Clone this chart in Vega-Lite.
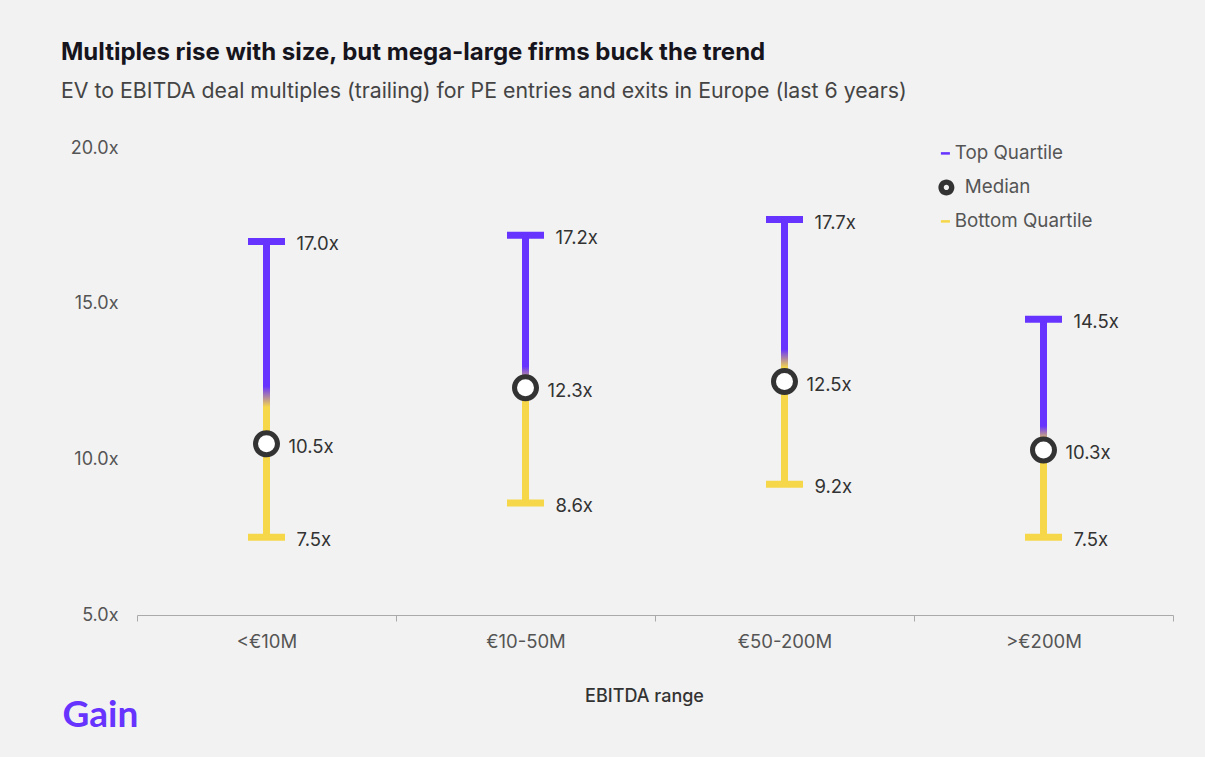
{
  "$schema": "https://vega.github.io/schema/vega-lite/v6.json",
  "width": 1036,
  "height": 467,
  "autosize": {"type": "none"},
  "padding": {"left": 137, "top": 148, "right": 32, "bottom": 142},
  "background": "#f2f2f2",
  "config": {
    "font": "Inter",
    "view": {"stroke": null},
    "legend": {"title": null, "orient": "none", "labelFontSize": 18.8, "labelColor": "#555555", "padding": 0}
  },
  "title": {
    "text": "Multiples rise with size, but mega-large firms buck the trend",
    "subtitle": "EV to EBITDA deal multiples (trailing) for PE entries and exits in Europe (last 6 years)",
    "anchor": "start",
    "frame": "group",
    "dx": -76,
    "fontSize": 24,
    "fontWeight": 700,
    "color": "#16141c",
    "subtitleFontSize": 21.3,
    "subtitleColor": "#444444",
    "subtitlePadding": 16,
    "offset": 37
  },
  "data": {
    "values": [
      {"range": "<€10M", "Bottom Quartile": 7.5, "Median": 10.5, "Top Quartile": 17.0},
      {"range": "€10-50M", "Bottom Quartile": 8.6, "Median": 12.3, "Top Quartile": 17.2},
      {"range": "€50-200M", "Bottom Quartile": 9.2, "Median": 12.5, "Top Quartile": 17.7},
      {"range": ">€200M", "Bottom Quartile": 7.5, "Median": 10.3, "Top Quartile": 14.5}
    ]
  },
  "encoding": {
    "x": {
      "field": "range",
      "type": "nominal",
      "sort": null,
      "scale": {"paddingInner": 0, "paddingOuter": 0},
      "axis": {
        "title": "EBITDA range",
        "labelAngle": 0,
        "tickBand": "extent",
        "domainColor": "#aaaaaa",
        "tickColor": "#aaaaaa",
        "tickSize": 6,
        "labelFontSize": 18.5,
        "labelColor": "#555555",
        "labelPadding": 11,
        "titleFontSize": 18,
        "titleFontWeight": 500,
        "titleColor": "#333333",
        "titleX": 507,
        "titleY": 81,
        "titleBaseline": "middle",
        "grid": false
      }
    }
  },
  "layer": [
    {
      "mark": {
        "type": "bar",
        "size": 7,
        "fill": {
          "gradient": "linear",
          "x1": 0, "y1": 1, "x2": 0, "y2": 0,
          "stops": [
            {"offset": 0, "color": "#f6d74a"},
            {"offset": 0.44, "color": "#f6d74a"},
            {"offset": 0.51, "color": "#6633ff"},
            {"offset": 1, "color": "#6633ff"}
          ]
        }
      },
      "encoding": {
        "y": {
          "field": "Bottom Quartile",
          "type": "quantitative",
          "scale": {"domain": [5, 20], "nice": false, "zero": false},
          "axis": {
            "title": "Gain",
            "values": [5, 10, 15, 20],
            "labelExpr": "format(datum.value, '.1f') + 'x'",
            "domain": false,
            "ticks": false,
            "grid": false,
            "labelPadding": 19,
            "labelFontSize": 18,
            "labelColor": "#555555",
            "titleAngle": 0,
            "titleX": -75,
            "titleY": 567,
            "titleAlign": "left",
            "titleBaseline": "middle",
            "titleFontSize": 37,
            "titleFontWeight": 700,
            "titleColor": "#6633ff",
            "titleFont": "Lato"
          }
        },
        "y2": {"field": "Top Quartile"}
      }
    },
    {
      "mark": {"type": "tick", "size": 37, "thickness": 7, "opacity": 1},
      "encoding": {
        "y": {"field": "Top Quartile", "type": "quantitative"},
        "color": {
          "datum": "Top Quartile",
          "type": "nominal",
          "scale": {"domain": ["Top Quartile"], "range": ["#6633ff"]},
          "legend": {
            "legendX": 799,
            "legendY": -4,
            "symbolType": "M-1,-0.28H1V0.28H-1Z",
            "symbolSize": 81,
            "symbolOpacity": 1,
            "labelOffset": 0
          }
        }
      }
    },
    {
      "mark": {"type": "tick", "size": 37, "thickness": 7, "opacity": 1},
      "encoding": {
        "y": {"field": "Bottom Quartile", "type": "quantitative"},
        "fill": {
          "datum": "Bottom Quartile",
          "type": "nominal",
          "scale": {"domain": ["Bottom Quartile"], "range": ["#f6d74a"]},
          "legend": {
            "legendX": 799,
            "legendY": 64,
            "symbolType": "M-1,-0.28H1V0.28H-1Z",
            "symbolSize": 81,
            "symbolOpacity": 1,
            "labelOffset": 0
          }
        }
      }
    },
    {
      "mark": {"type": "point", "filled": true, "color": "#333333", "size": 729, "opacity": 1, "strokeWidth": 0},
      "encoding": {
        "y": {"field": "Median", "type": "quantitative"},
        "shape": {
          "datum": "Median",
          "type": "nominal",
          "scale": {
            "domain": ["Median"],
            "range": ["M-1,0A1,1 0 1,0 1,0A1,1 0 1,0 -1,0Z M-0.33,0A0.33,0.33 0 1,1 0.33,0A0.33,0.33 0 1,1 -0.33,0Z"]
          },
          "legend": {
            "legendX": 800,
            "legendY": 30,
            "symbolSize": 256,
            "symbolOpacity": 1,
            "labelOffset": 9
          }
        }
      }
    },
    {
      "mark": {"type": "point", "shape": "circle", "filled": true, "color": "#ffffff", "size": 289, "opacity": 1, "strokeWidth": 0},
      "encoding": {
        "y": {"field": "Median", "type": "quantitative"}
      }
    },
    {
      "transform": [
        {"fold": ["Top Quartile", "Bottom Quartile"], "as": ["series", "value"]},
        {"calculate": "format(datum.value, '.1f') + 'x'", "as": "label"}
      ],
      "mark": {"type": "text", "align": "left", "baseline": "middle", "dx": 30, "dy": 3, "fontSize": 18.5, "color": "#333333"},
      "encoding": {
        "y": {"field": "value", "type": "quantitative"},
        "text": {"field": "label"}
      }
    },
    {
      "transform": [
        {"calculate": "format(datum['Median'], '.1f') + 'x'", "as": "label"}
      ],
      "mark": {"type": "text", "align": "left", "baseline": "middle", "dx": 22, "dy": 3, "fontSize": 18.5, "color": "#333333"},
      "encoding": {
        "y": {"field": "Median", "type": "quantitative"},
        "text": {"field": "label"}
      }
    }
  ]
}
